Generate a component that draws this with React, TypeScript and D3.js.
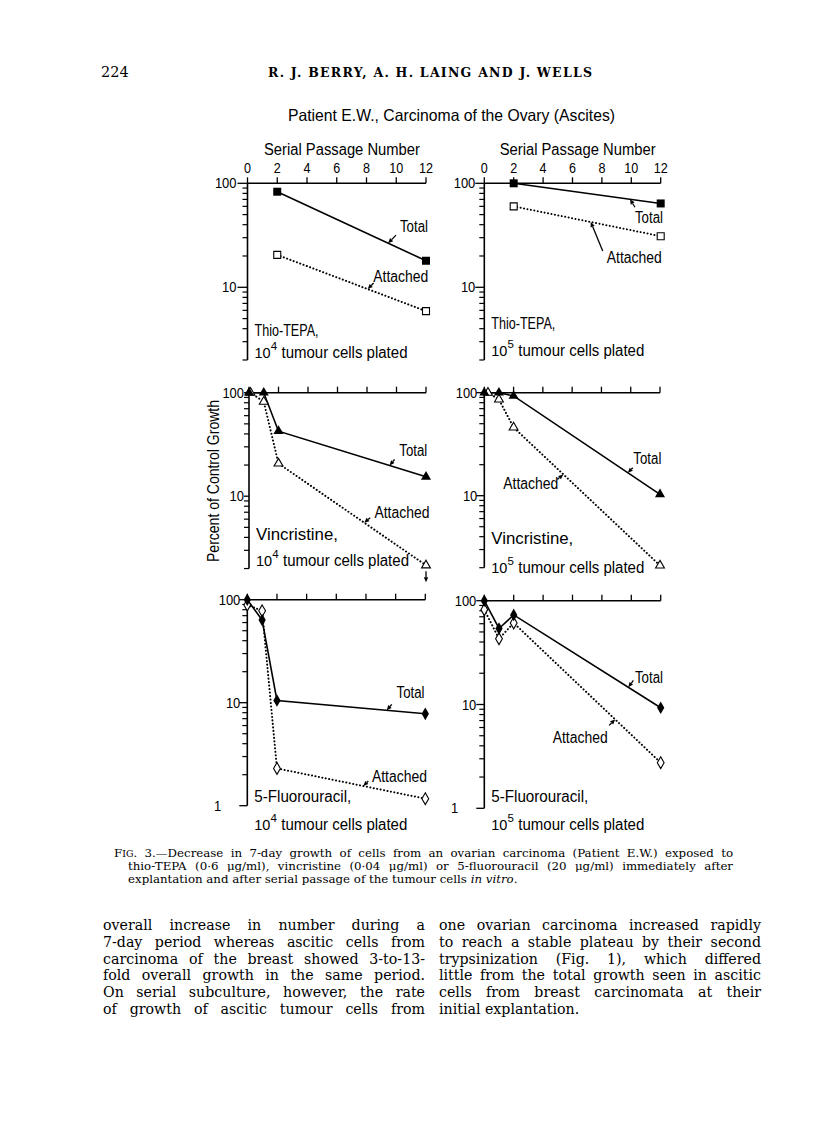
import React from 'react';
import * as d3 from 'd3';

// serial passage ticks on the top axis
const passages = [0, 2, 4, 6, 8, 10, 12];

// Thio-TEPA (passages 2 and 12)
const thioX = [2, 12];
const thio4Total = [83, 18];
const thio4Attached = [20.5, 5.9];
const thio5Total = [100, 64];
const thio5Attached = [60, 31];

// Vincristine
const vincX = [0, 1, 2, 12];
const vinc4Total = [100, 100, 42.5, 15.4];
const vinc4AttachedX = [0.1, 1, 2, 12];
const vinc4Attached = [100, 82, 20.7, 2.15];
const vinc5Total = [100, 100, 93, 10.3];
const vinc5AttachedX = [0.25, 1, 2, 12];
const vinc5Attached = [100, 86, 46, 2.1];

// 5-Fluorouracil
const fuX = [0, 1, 2, 12];
const fu4Total = [100, 63.5, 10.5, 7.8];
const fu4Attached = [89, 78, 2.3, 1.17];
const fu5Total = [100, 54, 73, 9.3];
const fu5Attached = [82, 43, 61, 2.75];

const FIG_FONT = "'Liberation Sans', Arial, sans-serif";
const SERIF = "'DejaVu Serif', 'Liberation Serif', serif";

const captionLines = [
  '. 3.—Decrease in 7-day growth of cells from an ovarian carcinoma (Patient E.W.) exposed to',
  'thio-TEPA (0·6 μg/ml), vincristine (0·04 μg/ml) or 5-fluorouracil (20 μg/ml) immediately after',
  'explantation and after serial passage of the tumour cells ',
];

const leftColumn = [
  'overall increase in number during a',
  '7-day period whereas ascitic cells from',
  'carcinoma of the breast showed 3-to-13-',
  'fold overall growth in the same period.',
  'On serial subculture, however, the rate',
  'of growth of ascitic tumour cells from',
];
const rightColumn = [
  'one ovarian carcinoma increased rapidly',
  'to reach a stable plateau by their second',
  'trypsinization (Fig. 1), which differed',
  'little from the total growth seen in ascitic',
  'cells from breast carcinomata at their',
  'initial explantation.',
];

// printed widths of the figure lettering (the original face is condensed)
const textWidth: Record<string, number> = {
  'Total': 28,
  'Attached': 55,
  'Thio-TEPA,': 64,
  'Vincristine,': 82,
  '5-Fluorouracil,': 97,
  'tumour cells plated': 126,
  'Serial Passage Number': 156,
};

// panel layout (page pixels) + annotation placement in data coordinates
const panels = [
  {
    key: 'tl', drug: 'Thio-TEPA,', exp: '4', sym: 'square', showTop: true, gap: 11, tick: 10,
    x0: 247.5, x1: 426, top: 183.3, decade: 104, yMin: 2, labelY: [336, 358],
    totalX: thioX, total: thio4Total, attX: thioX, att: thio4Attached,
    notes: [
      { text: 'Total', s: 'total', lx: 10.25, lv: 34.3, ax: 9.45, dx: 8, dy: -8 },
      { text: 'Attached', s: 'att', lx: 8.46, lv: 11.3, ax: 8.08, dx: 6, dy: -6 },
    ],
  },
  {
    key: 'tr', drug: 'Thio-TEPA,', exp: '5', sym: 'square', showTop: true, gap: 9, tick: 9,
    x0: 484.3, x1: 660.7, top: 183.3, decade: 104, yMin: 2, labelY: [329, 356],
    totalX: thioX, total: thio5Total, attX: thioX, att: thio5Attached,
    notes: [
      { text: 'Total', s: 'total', lx: 10.25, lv: 41.8, ax: 9.91, dx: 5, dy: 8 },
      { text: 'Attached', s: 'att', lx: 8.33, lv: 17, ax: 7.24, dx: 12, dy: 29 },
    ],
  },
  {
    key: 'ml', drug: 'Vincristine,', exp: '4', sym: 'triangle', showTop: false, down: true, gap: 5, tick: 5,
    x0: 249, x1: 426, top: 392.7, decade: 103.5, yMin: 2, labelY: [540, 566],
    totalX: vincX, total: vinc4Total, attX: vinc4AttachedX, att: vinc4Attached,
    notes: [
      { text: 'Total', s: 'total', lx: 10.19, lv: 24.4, ax: 9.53, dx: 5, dy: -6 },
      { text: 'Attached', s: 'att', lx: 8.5, lv: 6.2, ax: 7.81, dx: 6, dy: -5 },
    ],
  },
  {
    key: 'mr', drug: 'Vincristine,', exp: '5', sym: 'triangle', showTop: false, gap: 7, tick: 8,
    x0: 484.3, x1: 660, top: 392.7, decade: 103, yMin: 2, labelY: [544, 573],
    totalX: vincX, total: vinc5Total, attX: vinc5AttachedX, att: vinc5Attached,
    notes: [
      { text: 'Total', s: 'total', lx: 10.18, lv: 20.4, ax: 9.8, dx: 5, dy: -5 },
      { text: 'Attached', s: 'att', lx: 1.3, lv: 11.7, ax: 5.4, dx: -6, dy: 5 },
    ],
  },
  {
    key: 'bl', drug: '5-Fluorouracil,', exp: '4', sym: 'diamond', showTop: false, gap: 7, tick: 8,
    x0: 247.3, x1: 425.3, top: 599.7, decade: 103, yMin: 1, labelY: [802, 830],
    totalX: fuX, total: fu4Total, attX: fuX, att: fu4Attached,
    notes: [
      { text: 'Total', s: 'total', lx: 10.06, lv: 11.1, ax: 9.4, dx: 5, dy: -6 },
      { text: 'Attached', s: 'att', lx: 8.4, lv: 1.71, ax: 7.82, dx: 5, dy: -5 },
    ],
  },
  {
    key: 'br', drug: '5-Fluorouracil,', exp: '5', sym: 'diamond', showTop: false, gap: 8, tick: 8,
    x0: 484.3, x1: 660.7, top: 600.7, decade: 103.8, yMin: 1, labelY: [802, 830],
    totalX: fuX, total: fu5Total, attX: fuX, att: fu5Attached,
    notes: [
      { text: 'Total', s: 'total', lx: 10.25, lv: 16.2, ax: 9.8, dx: 5, dy: -7 },
      { text: 'Attached', s: 'att', lx: 4.65, lv: 4.3, ax: 8.9, dx: -6, dy: 6 },
    ],
  },
];

let ctx: CanvasRenderingContext2D | null = null;
function measure(text: string, font: string) {
  if (!ctx) ctx = document.createElement('canvas').getContext('2d');
  ctx!.font = font;
  return ctx!.measureText(text).width;
}

function symbolPath(kind: string, filled: boolean) {
  const type = kind === 'square' ? d3.symbolSquare : kind === 'triangle' ? d3.symbolTriangle : d3.symbolDiamond;
  const size = kind === 'square' ? (filled ? 64 : 49) : kind === 'triangle' ? (filled ? 44 : 34) : (filled ? 46 : 40);
  return d3.symbol().type(type).size(size)() as string;
}

// value of a series at x, interpolated in log space
function valueAt(xs: number[], vs: number[], xv: number) {
  for (let i = 0; i < xs.length - 1; i++) {
    if (xv >= xs[i] && xv <= xs[i + 1]) {
      const t = (xv - xs[i]) / (xs[i + 1] - xs[i]);
      return Math.pow(10, Math.log10(vs[i]) + t * (Math.log10(vs[i + 1]) - Math.log10(vs[i])));
    }
  }
  return vs[vs.length - 1];
}

function Arrow({ tx, ty, dx, dy }: any) {
  const len = Math.hypot(dx, dy);
  const ux = -dx / len, uy = -dy / len; // tail -> tip
  const nx = -uy, ny = ux;
  const hl = 5, hw = 2.2;
  const bx = tx - ux * hl, by = ty - uy * hl;
  return (
    <g>
      <line x1={tx + dx} y1={ty + dy} x2={bx} y2={by} stroke="#000" strokeWidth={1.3} />
      <path d={`M${tx},${ty}L${bx + nx * hw},${by + ny * hw}L${bx - nx * hw},${by - ny * hw}Z`} fill="#000" />
    </g>
  );
}

// figure lettering squeezed to the printed width
function Fig({ t, x, y, size = 16, anchor = 'start' }: any) {
  return (
    <text x={x} y={y} fontSize={size} fontFamily={FIG_FONT} textAnchor={anchor}
      textLength={textWidth[t]} lengthAdjust="spacingAndGlyphs">{t}</text>
  );
}

function Panel({ p }: any) {
  const x = d3.scaleLinear().domain([0, 12]).range([p.x0, p.x1]);
  const yBottom = p.top + p.decade * Math.log10(100 / p.yMin);
  const y = d3.scaleLog().domain([p.yMin, 100]).range([yBottom, p.top]);
  const line = d3.line<[number, number]>().x(d => x(d[0])).y(d => y(d[1]));
  const totalPts: [number, number][] = p.totalX.map((v: number, i: number) => [v, p.total[i]]);
  const attPts: [number, number][] = p.attX.map((v: number, i: number) => [v, p.att[i]]);
  const majors = [1, 10, 100].filter(v => v >= p.yMin);
  const minors: number[] = [];
  [1, 10].forEach(dec => d3.range(2, 10).forEach(k => { const v = k * dec; if (v >= p.yMin) minors.push(v); }));
  const filled = symbolPath(p.sym, true);
  const open = symbolPath(p.sym, false);
  const ax0 = x(0);
  const lastAtt = attPts[attPts.length - 1];

  return (
    <g>
      {/* top axis */}
      <line x1={ax0} x2={x(12)} y1={p.top} y2={p.top} stroke="#000" strokeWidth={1.6} />
      {passages.map(t => (
        <line key={t} x1={x(t)} x2={x(t)} y1={p.top} y2={p.top - 6} stroke="#000" strokeWidth={1.3} />
      ))}
      {p.showTop && (
        <g fontFamily={FIG_FONT} fill="#000">
          {passages.map(t => (
            <text key={t} x={x(t)} y={p.top - 10} fontSize={14} textAnchor="middle"
              textLength={t >= 10 ? 14 : 7} lengthAdjust="spacingAndGlyphs">{t}</text>
          ))}
          <Fig t="Serial Passage Number" x={x(6.35)} y={p.top - 28} size={16} anchor="middle" />
        </g>
      )}
      {/* left axis */}
      <line x1={ax0} x2={ax0} y1={p.top} y2={yBottom} stroke="#000" strokeWidth={1.6} />
      {majors.map(v => (
        <g key={v}>
          <line x1={ax0 - p.tick} x2={ax0} y1={y(v)} y2={y(v)} stroke="#000" strokeWidth={1.3} />
          <text x={v === 1 ? ax0 - 26 : ax0 - p.gap} y={y(v) + 5} fontSize={14} fontFamily={FIG_FONT} textAnchor="end"
            textLength={String(v).length * 7.2} lengthAdjust="spacingAndGlyphs">{v}</text>
        </g>
      ))}
      {minors.map(v => (
        <line key={v} x1={ax0 - 5} x2={ax0} y1={y(v)} y2={y(v)} stroke="#000" strokeWidth={1.2} />
      ))}

      {/* series */}
      <path d={line(attPts) as string} fill="none" stroke="#000" strokeWidth={2} strokeDasharray="0.1 3.4" strokeLinecap="round" />
      <path d={line(totalPts) as string} fill="none" stroke="#000" strokeWidth={1.6} />
      {attPts.map((d, i) => (
        <path key={'a' + i} d={open} transform={`translate(${x(d[0])},${y(d[1])})`} fill="#fff" stroke="#000" strokeWidth={1.1} />
      ))}
      {totalPts.map((d, i) => (
        <path key={'t' + i} d={filled} transform={`translate(${x(d[0])},${y(d[1])})`} fill="#000" />
      ))}
      {p.down && (
        <Arrow tx={x(lastAtt[0])} ty={y(lastAtt[1]) + 17} dx={0} dy={-11} />
      )}

      {/* annotations */}
      {p.notes.map((n: any) => {
        const xs = n.s === 'total' ? p.totalX : p.attX;
        const vs = n.s === 'total' ? p.total : p.att;
        const tip = valueAt(xs, vs, n.ax);
        return (
          <g key={n.text}>
            <Fig t={n.text} x={x(n.lx)} y={y(n.lv)} />
            <Arrow tx={x(n.ax)} ty={y(tip)} dx={n.dx} dy={n.dy} />
          </g>
        );
      })}

      {/* drug label */}
      <Fig t={p.drug} x={ax0 + 7} y={p.labelY[0]} />
      <text x={ax0 + 7} y={p.labelY[1]} fontSize={14.5} fontFamily={FIG_FONT}>
        10<tspan dy={-8} fontSize={11.5}>{p.exp}</tspan>
      </text>
      <Fig t="tumour cells plated" x={ax0 + 34} y={p.labelY[1]} />
    </g>
  );
}

function Justified({ x, y, width, text, size, last }: any) {
  const font = `${size}px ${SERIF}`;
  const natural = measure(text, font);
  const gaps = text.split(' ').length - 1;
  const ws = last || gaps === 0 ? 0 : (width - natural) / gaps;
  return <text x={x} y={y} fontSize={size} fontFamily={SERIF} wordSpacing={ws}>{text}</text>;
}

export default function App() {
  const capSize = 11.8;
  const capFont = `${capSize}px ${SERIF}`;
  // caption line 1 begins with small-caps "FIG"
  const line1Natural = measure('F', capFont) + measure('IG', `${capSize * 0.8}px ${SERIF}`) + measure(captionLines[0], capFont);
  const line1Ws = (733 - 114 - line1Natural) / (captionLines[0].split(' ').length - 1);
  const bodySize = 14.2;

  return (
    <svg width={816} height={1140} style={{ position: 'absolute', left: 0, top: 0, background: '#fff' }}>
      <rect width={816} height={1140} fill="#fff" />
      {/* running head */}
      <text x={101} y={77} fontSize={14.5} fontFamily={SERIF}>224</text>
      <text x={268} y={77} fontSize={12.5} fontFamily={SERIF} fontWeight="bold" textLength={324} lengthAdjust="spacing">
        R. J. BERRY, A. H. LAING AND J. WELLS
      </text>

      {/* figure title */}
      <text x={288} y={121} fontSize={16.5} fontFamily={FIG_FONT} textLength={327} lengthAdjust="spacingAndGlyphs">
        Patient E.W., Carcinoma of the Ovary (Ascites)
      </text>

      {panels.map(p => <Panel key={p.key} p={p} />)}

      <text transform="translate(219,481) rotate(-90)" fontSize={16} fontFamily={FIG_FONT} textAnchor="middle"
        textLength={162} lengthAdjust="spacingAndGlyphs">
        Percent of Control Growth
      </text>

      {/* caption */}
      <text x={114} y={857} fontSize={capSize} fontFamily={SERIF} wordSpacing={line1Ws}>
        F<tspan fontSize={capSize * 0.8}>IG</tspan>{captionLines[0]}
      </text>
      <Justified x={128} y={870} width={605} text={captionLines[1]} size={capSize} />
      <text x={128} y={883} fontSize={capSize} fontFamily={SERIF}>
        {captionLines[2]}<tspan fontStyle="italic">in vitro</tspan>.
      </text>

      {/* body text */}
      {leftColumn.map((t, i) => (
        <Justified key={'l' + i} x={103} y={930 + i * 16.8} width={322} text={t} size={bodySize} />
      ))}
      {rightColumn.map((t, i) => (
        <Justified key={'r' + i} x={439} y={930 + i * 16.8} width={322} text={t} size={bodySize} last={i === rightColumn.length - 1} />
      ))}
    </svg>
  );
}
